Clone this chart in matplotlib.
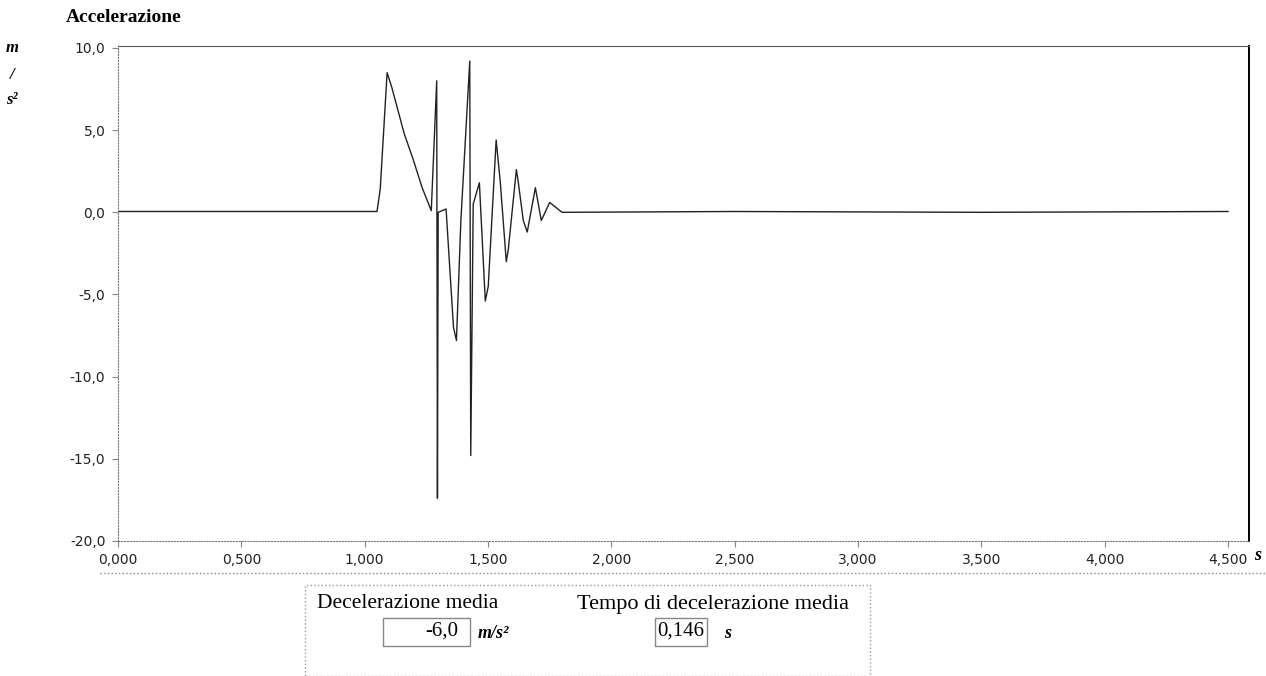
from __future__ import annotations

import matplotlib

matplotlib.use("Agg")
import matplotlib.pyplot as plt
from matplotlib.patches import Rectangle


# acceleration trace (time in s, acceleration in m/s^2)
TIME_S = [
    0.000, 0.400, 0.800, 1.050, 1.063, 1.091, 1.110, 1.160, 1.197, 1.233,
    1.270, 1.292, 1.295, 1.298, 1.330, 1.360, 1.372, 1.390, 1.426, 1.430,
    1.440, 1.465, 1.489, 1.501, 1.533, 1.550, 1.574, 1.582, 1.615, 1.623,
    1.643, 1.659, 1.692, 1.716, 1.750, 1.800, 2.500, 3.500, 4.500,
]
ACCEL = [
    0.05, 0.05, 0.05, 0.05, 1.4, 8.5, 7.6, 4.8, 3.2, 1.5,
    0.1, 8.0, -17.4, 0.0, 0.2, -7.0, -7.8, -0.5, 9.2, -14.8,
    0.5, 1.8, -5.4, -4.5, 4.4, 1.8, -3.0, -2.3, 2.6, 1.8,
    -0.5, -1.2, 1.5, -0.5, 0.6, 0.0, 0.05, 0.0, 0.05,
]

X_TICKS = [0.0, 0.5, 1.0, 1.5, 2.0, 2.5, 3.0, 3.5, 4.0, 4.5]
X_LABELS = ["0,000", "0,500", "1,000", "1,500", "2,000", "2,500", "3,000", "3,500", "4,000", "4,500"]
Y_TICKS = [10, 5, 0, -5, -10, -15, -20]
Y_LABELS = ["10,0", "5,0", "0,0", "-5,0", "-10,0", "-15,0", "-20,0"]

MEAN_DECEL = "-6,0"
MEAN_DECEL_TIME = "0,146"

W, H = 1266, 676
SERIF = ["Liberation Serif", "DejaVu Serif"]


def main() -> None:
    plt.rcParams["font.family"] = ["DejaVu Sans"]
    fig = plt.figure(figsize=(W / 100, H / 100), dpi=100)
    ax = fig.add_axes([118 / W, 1 - 541 / H, (1249 - 118) / W, (541 - 46) / H])

    ax.plot(TIME_S, ACCEL, color="#222222", linewidth=1.0)
    ax.set_xlim(0, 4.585)
    ax.set_ylim(-20, 10.12)
    ax.set_xticks(X_TICKS)
    ax.set_xticklabels(X_LABELS)
    ax.set_yticks(Y_TICKS)
    ax.set_yticklabels(Y_LABELS)
    ax.tick_params(labelsize=10, length=4, color="#888888", labelcolor="#222222", pad=5)

    for side in ("left", "bottom"):
        ax.spines[side].set_linestyle(":")
        ax.spines[side].set_color("#777777")
    ax.spines["top"].set_color("#555555")
    ax.spines["right"].set_color("black")
    ax.spines["right"].set_linewidth(1.4)

    _decorate(fig)
    fig.savefig("out.png", dpi=100)
    plt.close(fig)


def _fx(x: float) -> float:
    return x / W


def _fy(y: float) -> float:
    return 1 - y / H


def _decorate(fig) -> None:
    fig.text(_fx(66), _fy(18), "Accelerazione", family=SERIF, weight="bold",
             fontsize=14, va="center", ha="left")
    for y, s in ((48, "m"), (75, "/"), (100, "s²")):
        fig.text(_fx(12), _fy(y), s, family=SERIF, weight="bold", style="italic",
                 fontsize=12, ha="center", va="center")
    fig.text(_fx(1258), _fy(555), "s", family=SERIF, weight="bold", style="italic",
             fontsize=13, ha="center", va="center")

    # panel outline under the axis labels
    fig.add_artist(plt.Line2D([_fx(100), _fx(1266)], [_fy(573), _fy(573)],
                              color="#888888", linewidth=1, linestyle=":"))

    # summary box
    fig.add_artist(Rectangle((_fx(305), _fy(676)), _fx(565), 91 / H, fill=False,
                             edgecolor="#999999", linewidth=1, linestyle=":"))
    fig.text(_fx(408), _fy(604), "Decelerazione media", family=SERIF, fontsize=15.5,
             ha="center", va="center")
    fig.text(_fx(713), _fy(604), "Tempo di decelerazione media", family=SERIF,
             fontsize=16, ha="center", va="center")

    fig.add_artist(Rectangle((_fx(383), _fy(646)), _fx(87), 28 / H, fill=False,
                             edgecolor="#888888", linewidth=1))
    fig.text(_fx(458), _fy(631), MEAN_DECEL, family=SERIF, fontsize=15,
             ha="right", va="center")
    fig.text(_fx(478), _fy(633), "m/s²", family=SERIF, weight="bold", style="italic",
             fontsize=13, ha="left", va="center")

    fig.add_artist(Rectangle((_fx(655), _fy(646)), _fx(52), 28 / H, fill=False,
                             edgecolor="#888888", linewidth=1))
    fig.text(_fx(681), _fy(631), MEAN_DECEL_TIME, family=SERIF, fontsize=15,
             ha="center", va="center")
    fig.text(_fx(728), _fy(634), "s", family=SERIF, weight="bold", style="italic",
             fontsize=13, ha="center", va="center")


if __name__ == "__main__":
    main()
